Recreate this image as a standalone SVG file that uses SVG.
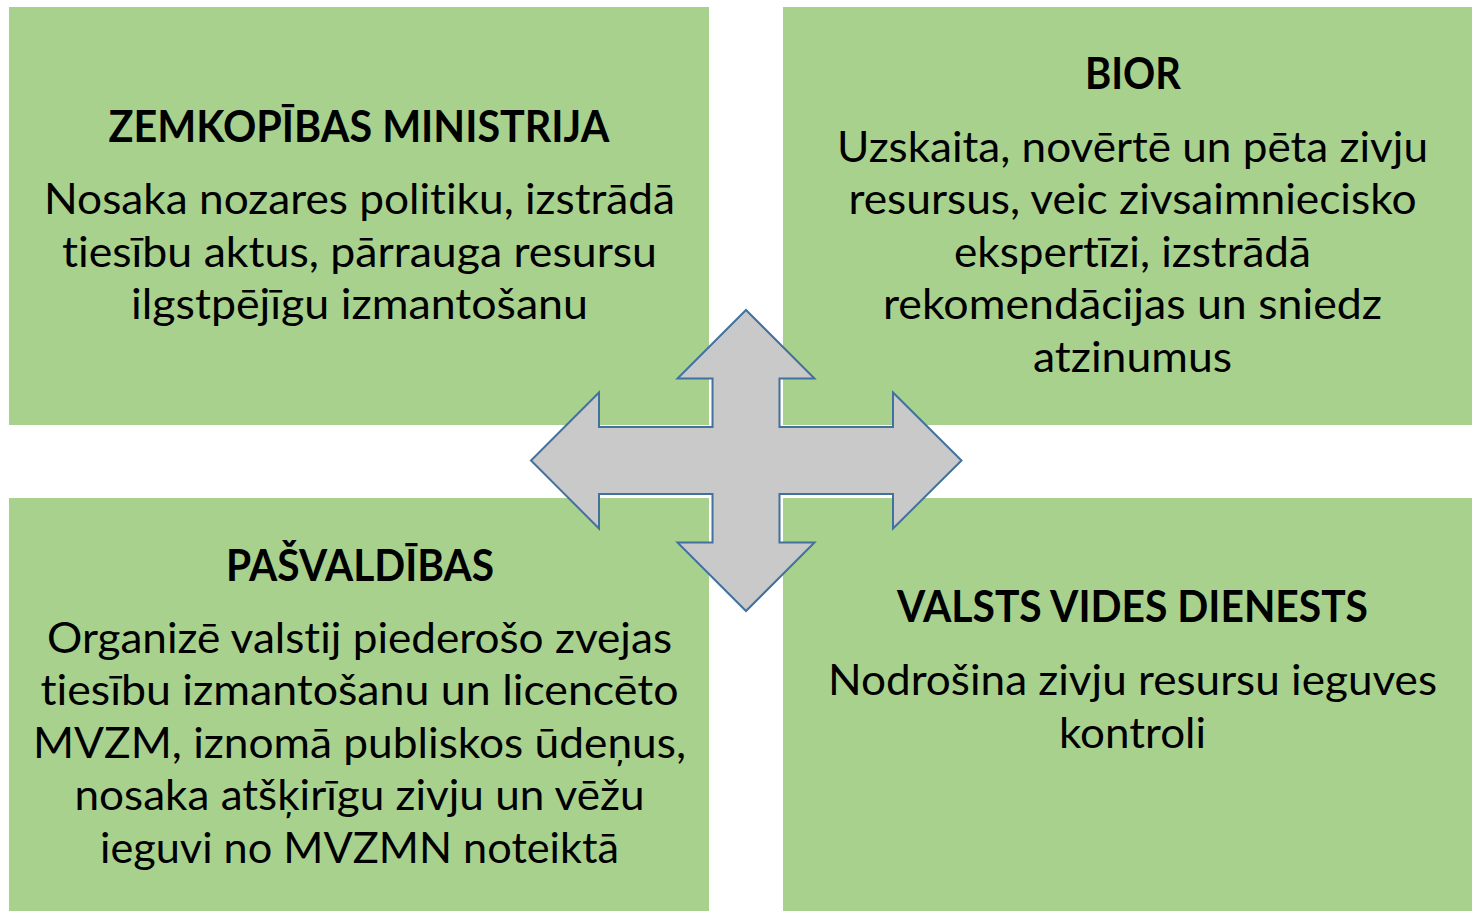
<svg xmlns="http://www.w3.org/2000/svg" width="1472" height="911" viewBox="0 0 1472 911">
<style>
.box{fill:#A9D18E;}
.t{font-family:Lato,"Open Sans","Liberation Sans",sans-serif;font-size:43px;fill:#000;text-anchor:middle;font-variant-ligatures:none;font-feature-settings:"liga" 0,"clig" 0,"dlig" 0;}
.b{font-weight:bold;}
.arrow{fill:#C9C9C9;stroke:#41719C;stroke-width:2;stroke-linejoin:miter;}
</style>
<rect x="0" y="0" width="1472" height="911" fill="#FFFFFF"/>
<g id="zemkopibas">
<rect class="box" x="9" y="7" width="700" height="418"/>
<text class="t b" x="359" y="141.5" textLength="501" lengthAdjust="spacingAndGlyphs">ZEMKOPĪBAS MINISTRIJA</text>
<text class="t" x="359.5" y="214" textLength="631" lengthAdjust="spacingAndGlyphs">Nosaka nozares politiku, izstrādā</text>
<text class="t" x="359.5" y="266.5" textLength="595" lengthAdjust="spacingAndGlyphs">tiesību aktus, pārrauga resursu</text>
<text class="t" x="359.5" y="319" textLength="457" lengthAdjust="spacingAndGlyphs">ilgstpējīgu izmantošanu</text>
</g>
<g id="bior">
<rect class="box" x="783" y="7" width="689" height="418"/>
<text class="t b" x="1133" y="88.5" textLength="96" lengthAdjust="spacingAndGlyphs">BIOR</text>
<text class="t" x="1132.5" y="161.5" textLength="591" lengthAdjust="spacingAndGlyphs">Uzskaita, novērtē un pēta zivju</text>
<text class="t" x="1132.5" y="214" textLength="568" lengthAdjust="spacingAndGlyphs">resursus, veic zivsaimniecisko</text>
<text class="t" x="1132.5" y="266.5" textLength="357" lengthAdjust="spacingAndGlyphs">ekspertīzi, izstrādā</text>
<text class="t" x="1132.5" y="319" textLength="499" lengthAdjust="spacingAndGlyphs">rekomendācijas un sniedz</text>
<text class="t" x="1132.5" y="371.5" textLength="199" lengthAdjust="spacingAndGlyphs">atzinumus</text>
</g>
<g id="pasvaldibas">
<rect class="box" x="9" y="498" width="700" height="413"/>
<text class="t b" x="360" y="580.5" textLength="268" lengthAdjust="spacingAndGlyphs">PAŠVALDĪBAS</text>
<text class="t" x="359.5" y="652.5" textLength="625" lengthAdjust="spacingAndGlyphs">Organizē valstij piederošo zvejas</text>
<text class="t" x="359.5" y="705" textLength="638" lengthAdjust="spacingAndGlyphs">tiesību izmantošanu un licencēto</text>
<text class="t" x="359.5" y="757.5" textLength="653" lengthAdjust="spacingAndGlyphs">MVZM, iznomā publiskos ūdeņus,</text>
<text class="t" x="359.5" y="810" textLength="570" lengthAdjust="spacingAndGlyphs">nosaka atšķirīgu zivju un vēžu</text>
<text class="t" x="359.5" y="862.5" textLength="519" lengthAdjust="spacingAndGlyphs">ieguvi no MVZMN noteiktā</text>
</g>
<g id="vvd">
<rect class="box" x="783" y="498" width="689" height="413"/>
<text class="t b" x="1132.5" y="622" textLength="471" lengthAdjust="spacingAndGlyphs">VALSTS VIDES DIENESTS</text>
<text class="t" x="1132.5" y="695" textLength="609" lengthAdjust="spacingAndGlyphs">Nodrošina zivju resursu ieguves</text>
<text class="t" x="1132.5" y="747.5" textLength="147" lengthAdjust="spacingAndGlyphs">kontroli</text>
</g>
<g id="connectors">
<polygon class="arrow" points="746,310 814.5,378.5 779.5,378.5 779.5,427 893,427 893,392.5 961.5,460.5 893,528.5 893,494 779.5,494 779.5,542.5 814.5,542.5 746,611 677.5,542.5 712.5,542.5 712.5,494 599,494 599,528.5 531,460.5 599,392.5 599,427 712.5,427 712.5,378.5 677.5,378.5"/>
</g>
</svg>
